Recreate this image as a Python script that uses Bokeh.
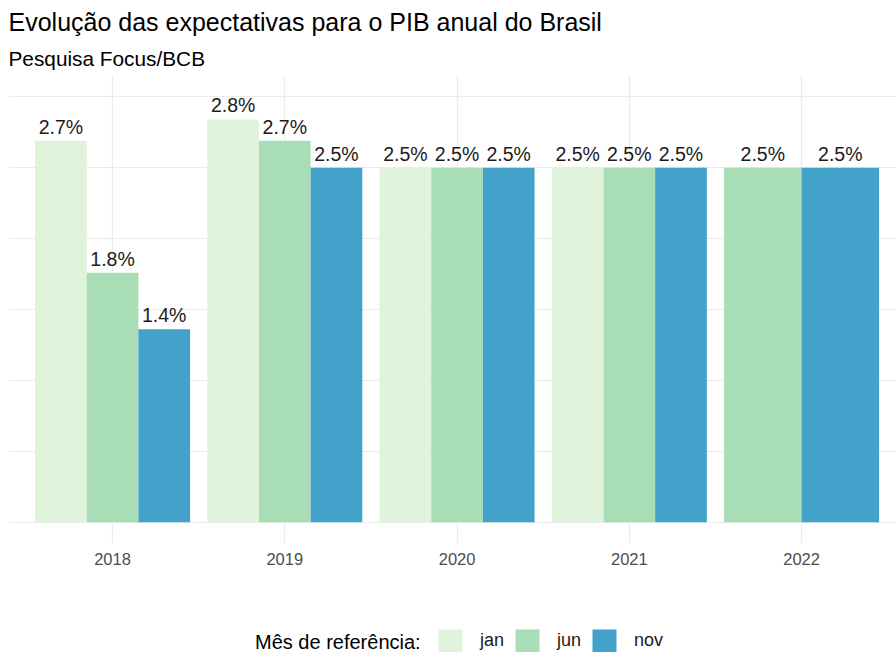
from bokeh.plotting import figure
from bokeh.models import (ColumnDataSource, Range1d, FixedTicker, Legend, LegendItem,
                          LabelSet, Title, Label)
from bokeh.layouts import column
from bokeh.core.properties import value
from bokeh.embed import file_html
from bokeh.resources import INLINE

# ---- data ----
years = ["2018", "2019", "2020", "2021", "2022"]
months = ["jan", "jun", "nov"]
jan = [2.69, 2.84, 2.5, 2.5, None]
jun = [1.76, 2.69, 2.5, 2.5, 2.5]
nov = [1.36, 2.5, 2.5, 2.5, 2.5]
colors = ["#E0F3DB", "#A8DDB5", "#43A2CA"]
title_text = "Evolução das expectativas para o PIB anual do Brasil"
subtitle_text = "Pesquisa Focus/BCB"
legend_title = "Mês de referência:"
grid_breaks = [0, 0.5, 1.0, 1.5, 2.0, 2.5, 3.0]

FONT = "Liberation Sans"
series = [jan, jun, nov]

H_MAIN = 600
H_LEG = 52

p = figure(width=896, height=H_MAIN, output_backend="svg", toolbar_location=None,
           x_range=Range1d(-0.604, 4.551), y_range=Range1d(-0.15, 3.15),
           min_border_left=8, min_border_right=0, min_border_top=75,
           min_border_bottom=H_MAIN - 543)
p.title.visible = False
p.outline_line_color = None
p.background_fill_color = "white"
p.border_fill_color = "white"

# legend strip (separate small figure whose frame covers all of it)
lg = figure(width=896, height=H_LEG, output_backend="svg", toolbar_location=None,
            x_range=Range1d(-0.604, 4.551), y_range=Range1d(100, 101),
            x_axis_location=None, y_axis_location=None,
            min_border_left=0, min_border_right=0, min_border_top=0, min_border_bottom=0)
lg.title.visible = False
lg.grid.visible = False
lg.outline_line_color = None
lg.border_fill_color = "white"
lg.background_fill_color = "white"

# dodge positions (ggplot position_dodge, total width 0.9)
key_renderers = []
for k, (m, vals, col) in enumerate(zip(months, series, colors)):
    xs, tops, widths, labels = [], [], [], []
    for i, y in enumerate(years):
        if vals[i] is None:
            continue
        present = [j for j in range(len(months)) if series[j][i] is not None]
        n = len(present)
        w = 0.9 / n
        pos = present.index(k)
        xs.append(i - 0.45 + w * (pos + 0.5))
        tops.append(vals[i])
        widths.append(w)
        labels.append(f"{vals[i]:.1f}%")
    src = ColumnDataSource(dict(x=xs, top=tops, w=widths, label=labels))
    p.vbar(x="x", top="top", width="w", bottom=0, source=src,
           fill_color=col, line_color=None)
    p.add_layout(LabelSet(x="x", y="top", text="label", source=src, text_align="center",
                          text_baseline="alphabetic", y_offset=7, text_font=value(FONT),
                          text_font_size=value("19.5px"), text_color=value("#1A1A1A")))
    # same data in the legend strip (outside its visible y range) -> legend keys
    key_renderers.append(lg.vbar(x="x", top="top", width="w", bottom=0, source=src,
                                 fill_color=col, line_color=None))

# axes / grids
p.yaxis.visible = False
p.ygrid.ticker = FixedTicker(ticks=grid_breaks)
p.ygrid.grid_line_color = "#EBEBEB"
p.ygrid.grid_line_width = 1.2
p.xaxis.ticker = FixedTicker(ticks=list(range(len(years))))
p.xaxis.major_label_overrides = {i: y for i, y in enumerate(years)}
p.xgrid.ticker = FixedTicker(ticks=list(range(len(years))))
p.xgrid.grid_line_color = "#EBEBEB"
p.xgrid.grid_line_width = 1.2
p.xaxis.axis_line_color = None
p.xaxis.major_tick_line_color = None
p.xaxis.minor_tick_line_color = None
p.xaxis.major_tick_in = 0
p.xaxis.major_tick_out = 0
p.xaxis.major_label_standoff = 9
p.xaxis.major_label_text_font = FONT
p.xaxis.major_label_text_font_size = "16.5px"
p.xaxis.major_label_text_color = "#4D4D4D"

# titles (subtitle added first -> closer to the plot)
p.add_layout(Title(text=subtitle_text, text_font=FONT, text_font_size="20.8px",
                   text_font_style="normal", text_color="#000000", align="left",
                   standoff=12, offset=0), "above")
p.add_layout(Title(text=title_text, text_font=FONT, text_font_size="25px",
                   text_font_style="normal", text_color="#000000", align="left",
                   standoff=5, offset=0), "above")

legend = Legend(items=[LegendItem(label=m, renderers=[r]) for m, r in zip(months, key_renderers)],
                orientation="horizontal", location=(427, H_LEG - 657.7 + 600 + 2),
                glyph_width=30, glyph_height=30, label_standoff=15, spacing=8,
                padding=0, margin=0, border_line_color=None, background_fill_alpha=0,
                label_text_font=FONT, label_text_font_size="18px",
                label_text_color="#1A1A1A")
lg.add_layout(legend, "center")
lg.add_layout(Label(x=246.5, y=H_LEG - 650 + 600 + 8.5, x_units="screen", y_units="screen",
                    text=legend_title, text_font=FONT, text_font_size="20px",
                    text_color="#000000", text_baseline="alphabetic"))

layout = column(p, lg, spacing=0)
open("out.html", "w").write(file_html(layout, INLINE))
